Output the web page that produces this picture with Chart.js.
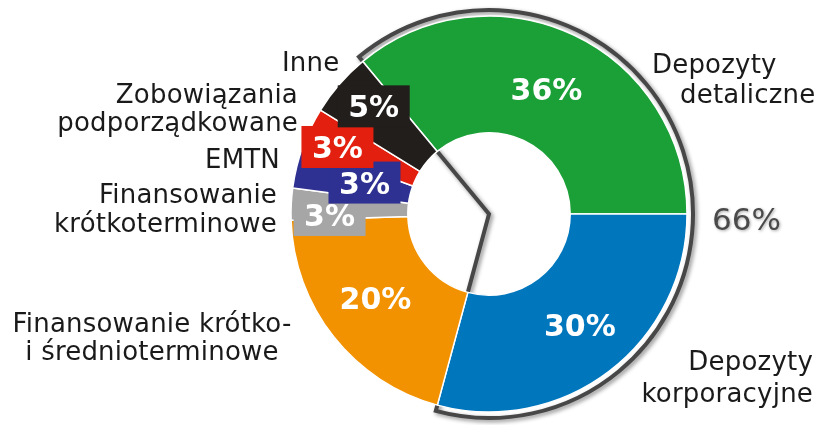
<!DOCTYPE html>
<html>
<head>
<meta charset="utf-8">
<script src="https://cdn.jsdelivr.net/npm/chart.js@4"></script>
<style>
  body { margin: 0; background: #fff; }
  canvas { display: block; }
</style>
</head>
<body>
<canvas id="myChart" width="818" height="425"></canvas>
<script>
const categories = ['Depozyty detaliczne', 'Depozyty korporacyjne', 'Finansowanie krótko- i średnioterminowe',
    'Finansowanie krótkoterminowe', 'EMTN', 'Zobowiązania podporządkowane', 'Inne']
// shares as drawn in the picture (the printed labels are rounded)
const values = [36, 29.2, 20.3, 2.6, 3.5, 3.2, 5.2]
const pctLabels = ['36%', '30%', '20%', '3%', '3%', '3%', '5%']
const groupLabel = '66%'
const colors = ['#1ba038', '#0077bd', '#f39200', '#a6a6a6', '#2e3191', '#e3200f', '#211e1b']

// where the name text sits, relative to the centre of the ring
const nameLines = [
    [['Depozyty', 163, -141], ['detaliczne', 191, -111]],
    [['Depozyty', 324, 156], ['korporacyjne', 324, 188]],
    [['Finansowanie krótko-', -337, 118], ['i średnioterminowe', -337, 146]],
    [['Finansowanie', -212, -11], ['krótkoterminowe', -212, 18]],
    [['EMTN', -209, -46]],
    [['Zobowiązania', -191, -111], ['podporządkowane', -191, -83]],
    [['Inne', -207, -143]]
]
const nameAlign = ['left', 'right', 'center', 'right', 'right', 'right', 'left']
// small shifts of the percent labels off the arc middle
const pctShift = [[-2, 1], [6, 0], [-4, -3], [-20, 8], [11, 2], [-26, -6], [-10, -16]]
const boxed = [false, false, false, true, true, true, true]

const graph = document.getElementById('myChart')

const outlinePlugin = {
    id: 'outline',
    beforeDatasetsDraw(chart) {
        const arcs = chart.getDatasetMeta(0).data
        const a0 = arcs[0], a1 = arcs[1]
        const ctx = chart.ctx
        const r = a0.outerRadius + 6
        ctx.save()
        ctx.shadowColor = 'rgba(0,0,0,0.45)'
        ctx.shadowBlur = 4
        ctx.shadowOffsetX = 2
        ctx.shadowOffsetY = 2
        ctx.strokeStyle = '#474747'
        ctx.lineWidth = 4
        ctx.beginPath()
        ctx.moveTo(a0.x, a0.y)
        ctx.lineTo(a0.x + r * Math.cos(a0.startAngle), a0.y + r * Math.sin(a0.startAngle))
        ctx.arc(a0.x, a0.y, r, a0.startAngle, a1.endAngle)
        ctx.closePath()
        ctx.stroke()
        ctx.restore()
    },
    afterDatasetsDraw(chart) {
        const arcs = chart.getDatasetMeta(0).data
        const ctx = chart.ctx
        const cx = arcs[0].x, cy = arcs[0].y
        ctx.save()
        // percent labels
        ctx.font = 'bold 30px "DejaVu Sans"'
        ctx.textAlign = 'center'
        ctx.textBaseline = 'alphabetic'
        arcs.forEach((arc, i) => {
            const p = arc.tooltipPosition()
            const x = p.x + pctShift[i][0]
            const y = p.y + pctShift[i][1]
            if (boxed[i]) {
                ctx.fillStyle = colors[i]
                ctx.fillRect(x - 36, y - 21, 72, 42)
            }
            ctx.fillStyle = '#ffffff'
            ctx.fillText(pctLabels[i], x, y + 11)
        })
        // names
        ctx.font = '26px "DejaVu Sans"'
        ctx.letterSpacing = '0.2px'
        ctx.fillStyle = '#1a1a1a'
        nameLines.forEach((lines, i) => {
            ctx.textAlign = nameAlign[i]
            lines.forEach((l) => {
                ctx.fillText(l[0], cx + l[1], cy + l[2])
            })
        })
        ctx.letterSpacing = '0px'
        // share of deposits
        ctx.font = '31px "DejaVu Sans"'
        ctx.textAlign = 'left'
        ctx.fillStyle = '#4a4a4a'
        ctx.shadowColor = 'rgba(0,0,0,0.35)'
        ctx.shadowBlur = 3
        ctx.shadowOffsetX = 1
        ctx.shadowOffsetY = 1
        ctx.fillText(groupLabel, cx + 223, cy + 16)
        ctx.restore()
    }
}

const data = {
    labels: categories,
    datasets: [{
        data: values,
        backgroundColor: colors,
        borderColor: '#ffffff',
        borderWidth: 1.5
    }]
}

new Chart(graph, {
    type: 'doughnut',
    data,
    options: {
        responsive: false,
        animation: false,
        rotation: -39.6,
        radius: 198,
        cutout: '41%',
        layout: { padding: { top: 16, bottom: 13, left: 291, right: 131 } },
        plugins: {
            legend: { display: false },
            tooltip: { enabled: false }
        }
    },
    plugins: [outlinePlugin]
})
</script>
</body>
</html>
